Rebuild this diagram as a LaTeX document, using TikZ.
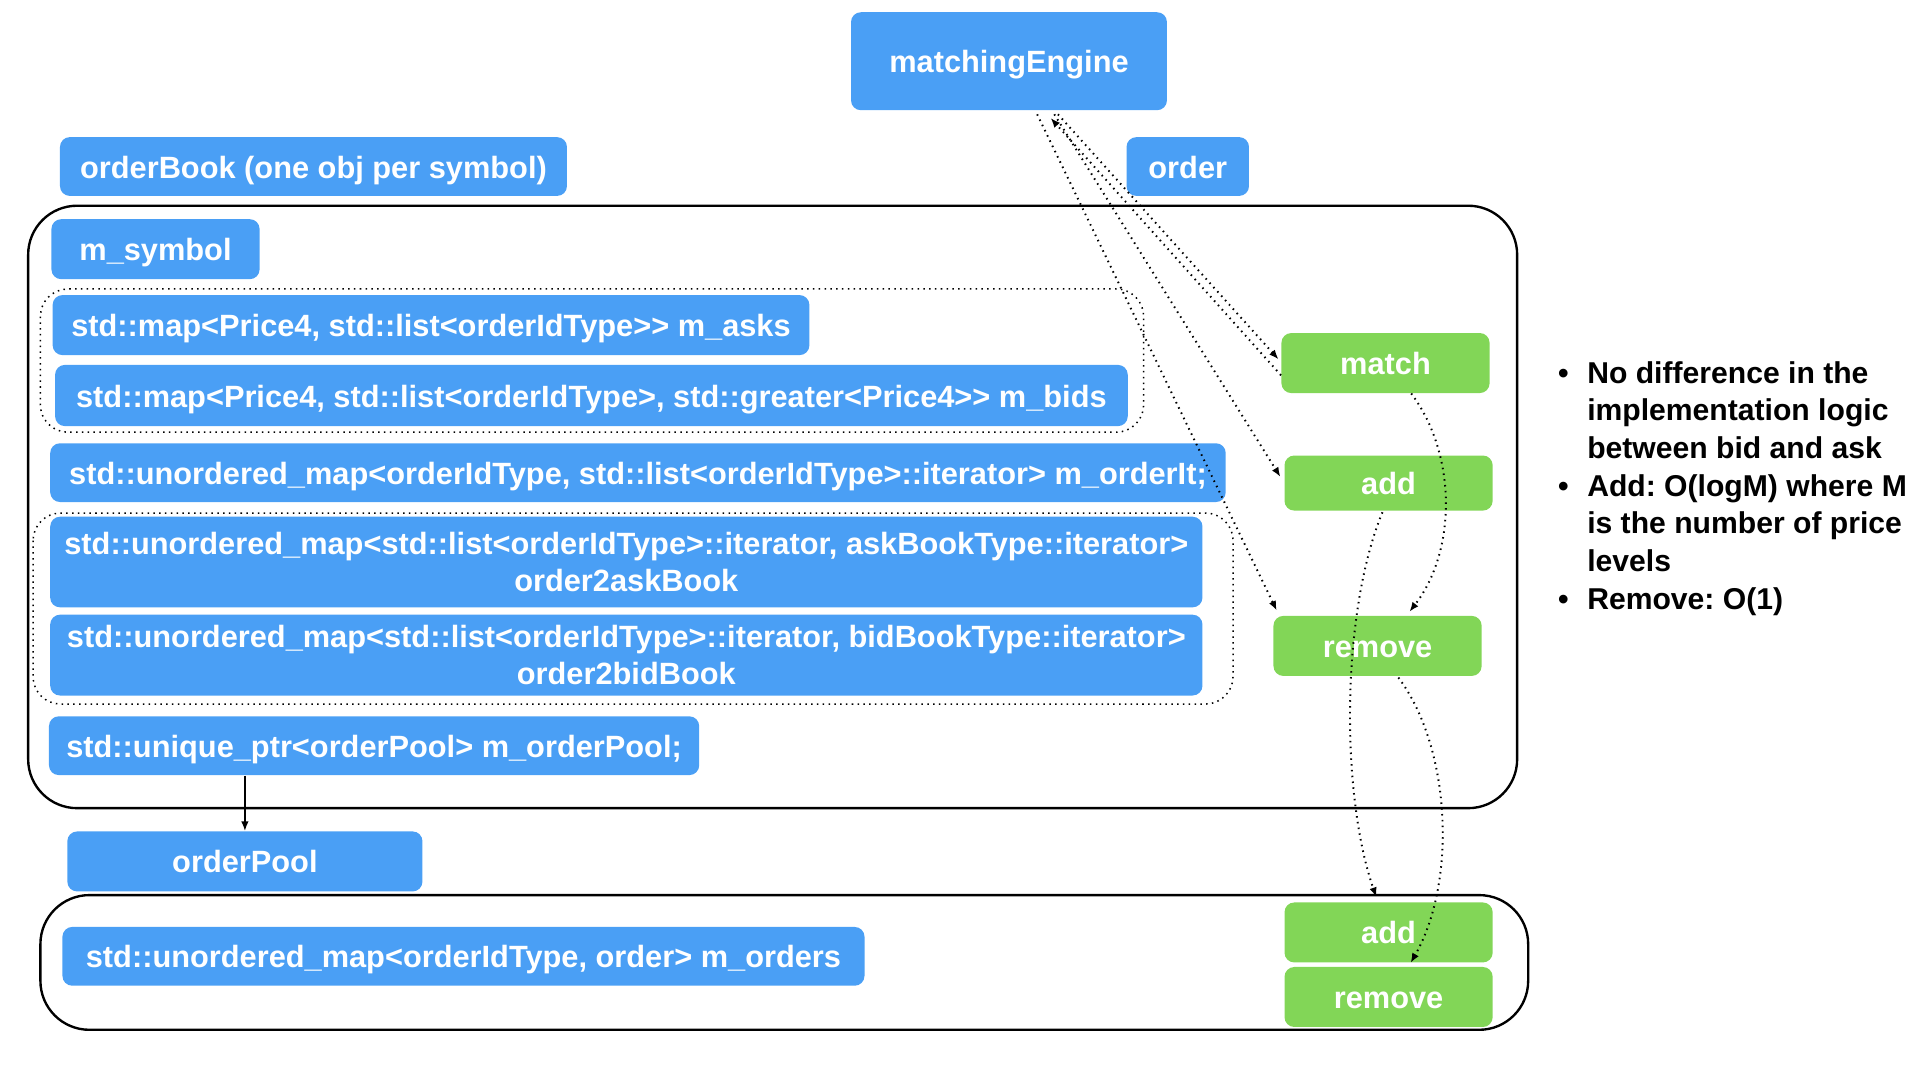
\documentclass[tikz,border=0pt]{standalone}
\usepackage{fontspec}
\setmainfont{Liberation Sans}
\usepackage{tikz}
\usetikzlibrary{positioning, arrows.meta, calc}
\definecolor{keyblue}{RGB}{74,159,245}
\definecolor{keygreen}{RGB}{130,214,87}
\frenchspacing

\begin{document}
\begin{tikzpicture}[x=0.2mm, y=-0.2mm]
	% Define styles
	\tikzset{
		dims/.style 2 args={minimum width=#1, minimum height=#2},
		block/.style={rectangle, rounded corners=1.6mm, fill=keyblue, text=white, inner sep=0pt, align=center, text height=11pt, text depth=0.3pt, font=\fontsize{14.3}{17.5}\selectfont\bfseries},
		twoline/.style={text height=, text depth=},
		op/.style={block, fill=keygreen, dims={34mm}{9.8mm}},
		frame/.style={draw, line width=1.1pt, rounded corners=8mm},
		group/.style={draw, dotted, line width=0.7pt, rounded corners=4.5mm},
		line/.style={draw, -{Latex[length=4.5pt, width=3.5pt]}, line width=0.7pt},
		link/.style={line, dotted, line width=0.9pt},
		notes/.style={anchor=north west, inner sep=0pt, align=left, font=\fontsize{14}{17.5}\selectfont\bfseries}
	}
	\useasboundingbox (0,0) rectangle (1568,882);
	
	% Frames
	\draw[frame] (23,168) rectangle (1239,660);
	\draw[frame] (33,731) rectangle (1248,841);
	\draw[group] (33,236) rectangle (934,353);
	\draw[group] (27,419) rectangle (1007,575);
	
	% Nodes
	\node[block, dims={51.6mm}{16mm}] (engine) at (824,50) {matchingEngine};
	\node[block, dims={82.8mm}{9.6mm}] (book) at (256,136) {orderBook (one obj per symbol)};
	\node[block, dims={20mm}{9.6mm}] (order) at (970,136) {order};
	
	\node[block, dims={34mm}{9.8mm}] (symbol) at (127,203.5) {m\_symbol};
	\node[block, dims={123.6mm}{9.8mm}] (asks) at (352,265.5) {std::map<Price4, std::list<orderIdType>{}> m\_asks};
	\node[block, dims={175.2mm}{10mm}] (bids) at (483,323) {std::map<Price4, std::list<orderIdType>, std::greater<Price4>{}> m\_bids};
	\node[block, dims={192mm}{9.6mm}] (orderit) at (521,386) {std::unordered\_map<orderIdType, std::list<orderIdType>::iterator> m\_orderIt;};
	\node[block, twoline, dims={188.2mm}{14.8mm}] (askmap) at (511.5,459) {std::unordered\_map<std::list<orderIdType>::iterator, askBookType::iterator>\\order2askBook};
	\node[block, twoline, dims={188.2mm}{13.2mm}] (bidmap) at (511.5,535) {std::unordered\_map<std::list<orderIdType>::iterator, bidBookType::iterator>\\order2bidBook};
	\node[block, dims={106.2mm}{9.6mm}] (poolptr) at (305.5,609) {std::unique\_ptr<orderPool> m\_orderPool;};
	
	\node[block, dims={58mm}{9.8mm}] (pool) at (200,703.5) {orderPool};
	\node[block, dims={131mm}{9.6mm}] (orders) at (378.5,781) {std::unordered\_map<orderIdType, order> m\_orders};
	
	\node[op] (match) at (1131.5,296.5) {match};
	\node[op, dims={34mm}{9mm}] (add1) at (1134,394.5) {add};
	\node[op] (rm1) at (1125,527.5) {remove};
	\node[op] (add2) at (1134,761.5) {add};
	\node[op, below=0.6mm of add2] (rm2) {remove};
	
	\node[notes] (notes) at (1272,291) {%
		\begin{tabular}{@{}l@{\hspace{8.7pt}}l@{}}
			\textbullet & No difference in the\\
			& implementation logic\\
			& between bid and ask\\
			\textbullet & Add: O(logM) where M\\
			& is the number of price\\
			& levels\\
			\textbullet & Remove: O(1)
		\end{tabular}};
	
	% Arrows
	\draw[line] (poolptr.south -| pool.north) -- (pool.north);
	
	\draw[link] ($(engine.south)+(23,3)$) -- ($(rm1.north west)+(3,-4)$);
	\draw[link] ($(engine.south)+(37,3)$) -- ($(add1.west)+(-3,-5)$);
	\draw[link] ($(engine.south)+(40,3)$) -- ($(match.west)+(-2,-3)$);
	\draw[link] ($(match.west)+(0,10)$) -- ($(engine.south)+(34,6)$);
	
	\draw[link] ($(match.south)+(21,0)$) .. controls +(37,49) and +(39,-50) .. ($(rm1.north)+(26,-3)$);
	\draw[link] ($(add1.south)+(-5,1)$) .. controls +(-34,82) and +(-29,-83) .. ($(add2.north)+(-10,-4)$);
	\draw[link] ($(rm1.south)+(17,1)$) .. controls +(43,57) and +(38,-66) .. ($(rm2.north)+(18,-3)$);
	
\end{tikzpicture}
\end{document}
